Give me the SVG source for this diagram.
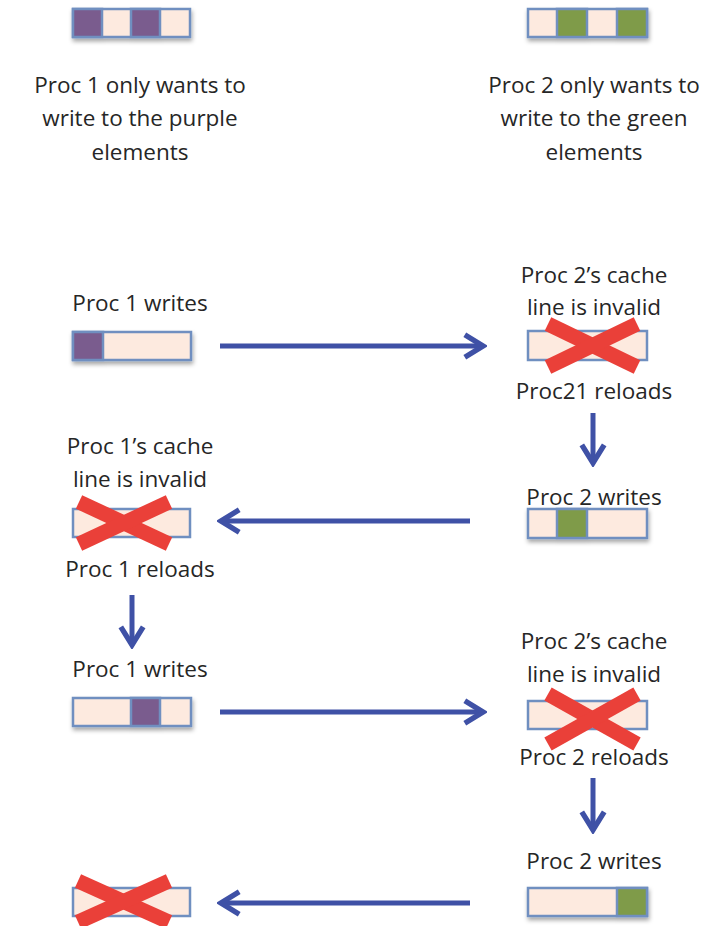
<svg xmlns="http://www.w3.org/2000/svg" width="727" height="926" viewBox="0 0 727 926">
<style>
text{font-family:"Open Sans","Liberation Sans",sans-serif;font-size:22.5px;fill:#262626;text-anchor:middle}
.bar{fill:#fdeadf;stroke:#6f8fc0;stroke-width:2.5}
.pu{fill:#7a5b8e;stroke:#6f8fc0;stroke-width:2.5}
.gr{fill:#7f9b48;stroke:#6f8fc0;stroke-width:2.5}
.x{stroke:#ea4039;stroke-width:15;stroke-linecap:butt}
.arr{stroke:#3f51a6;stroke-width:5;fill:none}
</style>
<defs>
<filter id="sh" x="-10%" y="-20%" width="120%" height="160%">
<feDropShadow dx="1" dy="3" stdDeviation="2" flood-color="#000" flood-opacity="0.35"/>
</filter>
<marker id="ah" viewBox="0 0 20 20" refX="17" refY="10" markerWidth="5.6" markerHeight="5.6" markerUnits="strokeWidth" orient="auto">
<path d="M4,2 L17,10 L4,18" fill="none" stroke="#3f51a6" stroke-width="3.8" stroke-linejoin="miter"/>
</marker>
</defs>

<g id="top-left">
<g filter="url(#sh)">
<rect class="bar" x="73" y="9" width="117" height="28"/>
<rect class="pu" x="73" y="9" width="29" height="28"/>
<rect class="pu" x="131" y="9" width="29" height="28"/>
</g>
<text x="140" y="93">Proc 1 only wants to</text>
<text x="140" y="126">write to the purple</text>
<text x="140" y="160">elements</text>
</g>

<g id="top-right">
<g filter="url(#sh)">
<rect class="bar" x="528" y="9" width="119" height="28"/>
<rect class="gr" x="557" y="9" width="30" height="28"/>
<rect class="gr" x="617" y="9" width="30" height="28"/>
</g>
<text x="594" y="93">Proc 2 only wants to</text>
<text x="594" y="126">write to the green</text>
<text x="594" y="160">elements</text>
</g>

<g id="step1">
<text x="140" y="311">Proc 1 writes</text>
<g filter="url(#sh)">
<rect class="bar" x="73" y="332" width="118" height="28"/>
<rect class="pu" x="73" y="332" width="30" height="28"/>
</g>
</g>

<g id="step2">
<text x="594" y="283">Proc 2’s cache</text>
<text x="594" y="315">line is invalid</text>
<rect class="bar" x="528" y="331" width="119" height="29"/>
<line class="x" x1="548" y1="324" x2="637" y2="367"/>
<line class="x" x1="548" y1="367" x2="637" y2="324"/>
<text x="594" y="399">Proc21 reloads</text>
</g>

<g id="step3">
<text x="594" y="505">Proc 2 writes</text>
<g filter="url(#sh)">
<rect class="bar" x="528" y="509" width="119" height="29"/>
<rect class="gr" x="557" y="509" width="30" height="29"/>
</g>
</g>

<g id="step4">
<text x="140" y="454">Proc 1’s cache</text>
<text x="140" y="487">line is invalid</text>
<rect class="bar" x="73" y="509" width="117" height="28"/>
<line class="x" x1="79" y1="502" x2="169" y2="544"/>
<line class="x" x1="79" y1="544" x2="169" y2="502"/>
<text x="140" y="577">Proc 1 reloads</text>
</g>

<g id="step5">
<text x="140" y="677">Proc 1 writes</text>
<g filter="url(#sh)">
<rect class="bar" x="73" y="698" width="118" height="28"/>
<rect class="pu" x="131" y="698" width="29" height="28"/>
</g>
</g>

<g id="step6">
<text x="594" y="649">Proc 2’s cache</text>
<text x="594" y="682">line is invalid</text>
<rect class="bar" x="528" y="701" width="119" height="28"/>
<line class="x" x1="548" y1="694" x2="637" y2="744"/>
<line class="x" x1="548" y1="744" x2="637" y2="694"/>
<text x="594" y="765">Proc 2 reloads</text>
</g>

<g id="step7">
<text x="594" y="869">Proc 2 writes</text>
<g filter="url(#sh)">
<rect class="bar" x="528" y="888" width="119" height="28"/>
<rect class="gr" x="617" y="888" width="30" height="28"/>
</g>
</g>

<g id="step8">
<rect class="bar" x="73" y="888" width="117" height="28"/>
<line class="x" x1="78" y1="881" x2="169" y2="922"/>
<line class="x" x1="78" y1="922" x2="169" y2="881"/>
</g>

<g id="connectors">
<line class="arr" x1="220" y1="346" x2="483" y2="346" marker-end="url(#ah)"/>
<line class="arr" x1="593" y1="413" x2="593" y2="463" marker-end="url(#ah)"/>
<line class="arr" x1="470" y1="521" x2="221" y2="521" marker-end="url(#ah)"/>
<line class="arr" x1="132" y1="595" x2="132" y2="645" marker-end="url(#ah)"/>
<line class="arr" x1="220" y1="712" x2="483" y2="712" marker-end="url(#ah)"/>
<line class="arr" x1="593" y1="778" x2="593" y2="830" marker-end="url(#ah)"/>
<line class="arr" x1="470" y1="903" x2="221" y2="903" marker-end="url(#ah)"/>
</g>
</svg>
